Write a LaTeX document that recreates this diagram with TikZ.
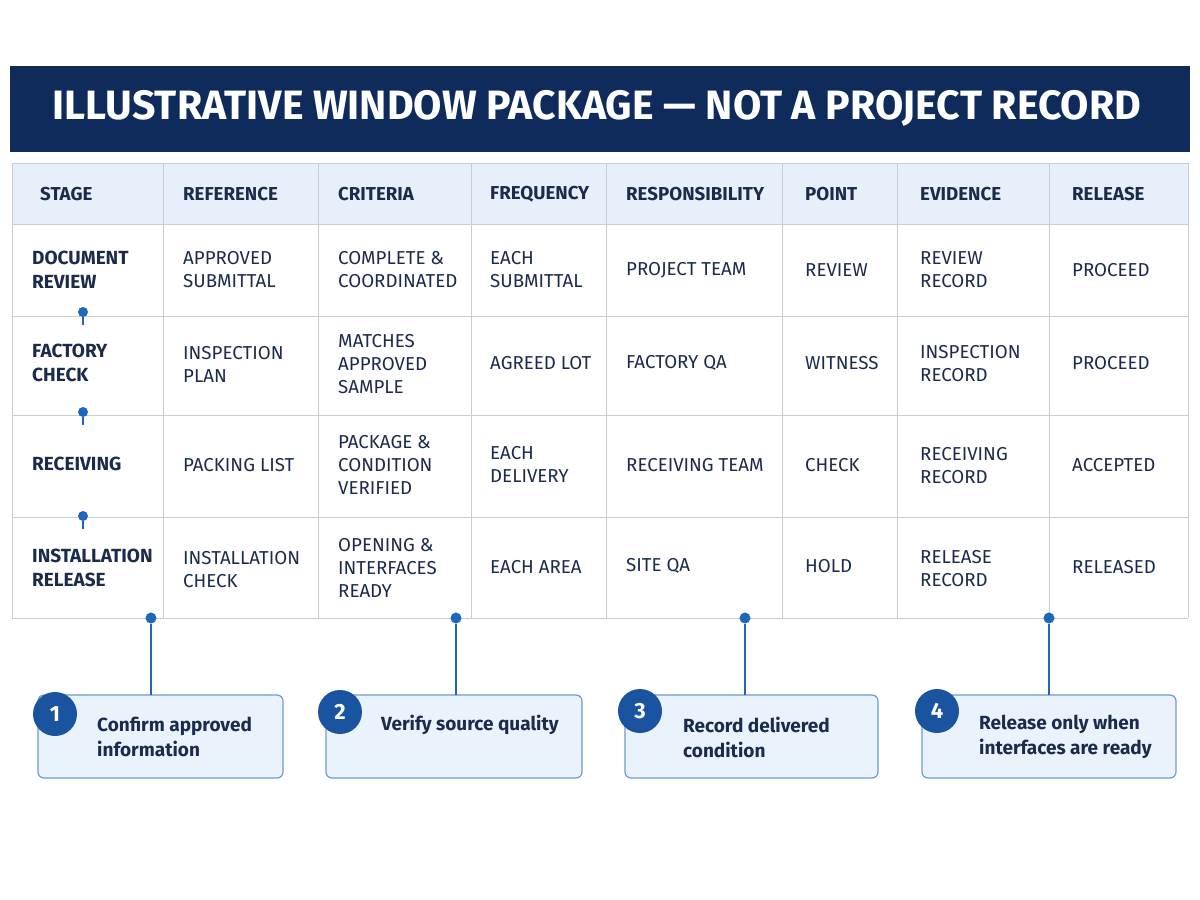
\documentclass[tikz,border=0pt]{standalone}
\usepackage{fontspec}
\setmainfont{Fira Sans}
\begin{document}
\definecolor{navy}{HTML}{0E2B5C}
\definecolor{ink}{HTML}{1A2B4C}
\definecolor{hdr}{HTML}{E6EFFA}
\definecolor{grid}{HTML}{C4CDD8}
\definecolor{acc}{HTML}{1F66BF}
\definecolor{boxf}{HTML}{EAF3FC}
\definecolor{boxd}{HTML}{6E9BD6}
\begin{tikzpicture}[x=1pt,y=-1pt,
  cell/.style={anchor=west,align=left,text=ink,font=\fontsize{18.7}{23}\selectfont,inner sep=0pt},
  stg/.style={cell,font=\fontsize{19}{24}\selectfont\bfseries},
  hd/.style={cell,font=\fontsize{18.7}{22}\selectfont\bfseries},
  dot/.style={circle,fill=acc,inner sep=0pt,minimum size=11pt},
  sdot/.style={circle,fill=acc,inner sep=0pt,minimum size=10pt},
  conn/.style={draw=acc,line width=2pt},
  stepbox/.style={draw=boxd,fill=boxf,rounded corners=6pt,line width=1.2pt},
  num/.style={circle,fill=acc!70!navy,text=white,minimum size=44pt,inner sep=0pt,font=\fontsize{22}{22}\selectfont\bfseries},
  stxt/.style={anchor=west,align=left,text=ink,font=\fontsize{19}{25}\selectfont\bfseries,inner sep=0pt}]
\useasboundingbox (0,0) rectangle (1200,900);
\fill[white] (0,0) rectangle (1200,900);
% title
\fill[navy] (10,66) rectangle (1190,152);
\node[text=white,font=\fontsize{41}{41}\selectfont\bfseries] (title) at (597,108) {ILLUSTRATIVE WINDOW PACKAGE — NOT A PROJECT RECORD};
% table
\fill[hdr] (12,163) rectangle (1188,224);
\foreach \y in {163,224,316,415,517,618} \draw[grid,line width=1pt] (12,\y) -- (1188,\y);
\foreach \x in {12,163,318,471,606,782,897,1049,1188} \draw[grid,line width=1pt] (\x,163) -- (\x,618);
% header
\foreach \x/\t [count=\i] in {40/STAGE,183/REFERENCE,338/CRITERIA,490/FREQUENCY,626/RESPONSIBILITY,805/POINT,920/EVIDENCE,1072/RELEASE}
  \node[hd] (h\i) at (\x,194) {\t};
% stage column
\node[stg] (s1) at (32,270) {DOCUMENT\\REVIEW};
\node[stg] (s2) at (32,363) {FACTORY\\CHECK};
\node[stg] (s3) at (32,464) {RECEIVING};
\node[stg] (s4) at (32,568) {INSTALLATION\\RELEASE};
% row 1
\node[cell] (r1c2) at (183,270) {APPROVED\\SUBMITTAL};
\node[cell] (r1c3) at (338,270) {COMPLETE \&\\COORDINATED};
\node[cell] (r1c4) at (490,270) {EACH\\SUBMITTAL};
\node[cell] (r1c5) at (626,270) {PROJECT TEAM};
\node[cell] (r1c6) at (805,270) {REVIEW};
\node[cell] (r1c7) at (920,270) {REVIEW\\RECORD};
\node[cell] (r1c8) at (1072,270) {PROCEED};
% row 2
\node[cell] (r2c2) at (183,364) {INSPECTION\\PLAN};
\node[cell] (r2c3) at (338,364) {MATCHES\\APPROVED\\SAMPLE};
\node[cell] (r2c4) at (490,363) {AGREED LOT};
\node[cell] (r2c5) at (626,363) {FACTORY QA};
\node[cell] (r2c6) at (805,363) {WITNESS};
\node[cell] (r2c7) at (920,364) {INSPECTION\\RECORD};
\node[cell] (r2c8) at (1072,363) {PROCEED};
% row 3
\node[cell] (r3c2) at (183,465) {PACKING LIST};
\node[cell] (r3c3) at (338,465) {PACKAGE \&\\CONDITION\\VERIFIED};
\node[cell] (r3c4) at (490,464) {EACH\\DELIVERY};
\node[cell] (r3c5) at (626,465) {RECEIVING TEAM};
\node[cell] (r3c6) at (805,465) {CHECK};
\node[cell] (r3c7) at (920,466) {RECEIVING\\RECORD};
\node[cell] (r3c8) at (1072,465) {ACCEPTED};
% row 4
\node[cell] (r4c2) at (183,570) {INSTALLATION\\CHECK};
\node[cell] (r4c3) at (338,568) {OPENING \&\\INTERFACES\\READY};
\node[cell] (r4c4) at (490,567) {EACH AREA};
\node[cell] (r4c5) at (626,566) {SITE QA};
\node[cell] (r4c6) at (805,566) {HOLD};
\node[cell] (r4c7) at (920,569) {RELEASE\\RECORD};
\node[cell] (r4c8) at (1072,567) {RELEASED};
% stage timeline dots
\foreach \y/\n in {312/t1,412/t2,516/t3} {
  \node[sdot] (\n) at (83,\y) {};
  \coordinate (\n e) at (83,\y+13);
  \draw[acc,line width=1.6pt] (\n) -- (\n e);
}
% bottom steps
\foreach \i/\dx/\bl/\br/\cx/\cy/\tx/\ty/\t in {
  1/151/38/283/55/714/97/737/{Confirm approved\\information},
  2/456/326/582/340/712/381/725/{Verify source quality},
  3/745/625/878/640/711/683/737/{Record delivered\\condition},
  4/1049/922/1176/937/711/979/737/{Release only when\\interfaces are ready}} {
  \draw[stepbox] (\bl,695) rectangle (\br,778);
  \node[dot] (d\i) at (\dx,618) {};
  \coordinate (b\i) at (\dx,695);
  \draw[conn] (d\i) -- (b\i);
  \node[num] (n\i) at (\cx,\cy) {\i};
  \node[stxt] (x\i) at (\tx,\ty) {\t};
}
\end{tikzpicture}
\end{document}
